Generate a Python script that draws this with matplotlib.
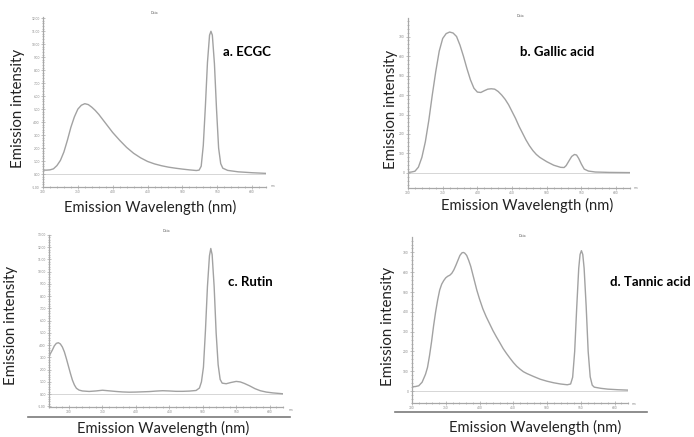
import numpy as np
import matplotlib
matplotlib.use('Agg')
import matplotlib.pyplot as plt
from matplotlib.ticker import MultipleLocator, FixedLocator
from matplotlib.lines import Line2D

# ---------------------------------------------------------------- data
# a. ECGC
wl_a = [300, 305, 310, 315, 320, 325, 330, 335, 340, 345, 350, 355, 360, 365,
        370, 375, 380, 385, 390, 395, 400, 410, 420, 430, 440, 450, 460, 470,
        480, 490, 500, 510, 520, 524, 527, 530, 533, 536, 539, 541, 543, 546,
        549, 552, 555, 558, 565, 580, 600, 620]
in_a = [0.30, 0.30, 0.32, 0.40, 0.65, 1.05, 1.7, 2.6, 3.6, 4.4, 5.0, 5.3, 5.42, 5.35,
        5.15, 4.9, 4.6, 4.25, 3.9, 3.55, 3.2, 2.6, 2.05, 1.6, 1.25, 0.97, 0.78, 0.64,
        0.53, 0.45, 0.38, 0.32, 0.27, 0.30, 0.6, 2.2, 5.2, 8.6, 10.7, 11.0, 10.7, 8.5,
        5.0, 2.0, 0.8, 0.45, 0.28, 0.17, 0.10, 0.05]

# b. Gallic acid
wl_b = [300, 305, 310, 315, 320, 325, 330, 335, 340, 345, 350, 355, 360, 365,
        370, 375, 380, 385, 390, 395, 400, 405, 410, 415, 420, 425, 430, 435,
        440, 445, 450, 455, 460, 465, 470, 475, 480, 485, 490, 500, 510, 520,
        525, 528, 532, 536, 540, 543, 546, 550, 554, 560, 570, 590, 619]
in_b = [3, 5, 9, 30, 80, 160, 270, 400, 520, 625, 690, 715, 723, 718,
        700, 655, 598, 535, 478, 435, 415, 413, 422, 430, 432, 430, 418, 400,
        378, 350, 315, 280, 240, 205, 170, 140, 115, 95, 80, 58, 40, 29,
        28, 38, 62, 85, 95, 92, 75, 45, 20, 10, 5, 3, 2]

# c. Rutin
wl_c = [270, 272, 275, 278, 281, 284, 287, 290, 293, 296, 299, 302, 305, 308,
        311, 315, 320, 330, 340, 350, 360, 370, 380, 390, 400, 410, 420, 430,
        440, 450, 460, 470, 480, 490, 495, 498, 501, 504, 507, 510, 512, 514,
        517, 520, 523, 526, 529, 535, 542, 550, 556, 562, 570, 578, 586, 595,
        605, 620]
in_c = [3.1, 3.3, 3.6, 3.95, 4.15, 4.2, 4.1, 3.85, 3.45, 2.9, 2.3, 1.7, 1.15, 0.75,
        0.48, 0.33, 0.26, 0.22, 0.26, 0.32, 0.27, 0.22, 0.18, 0.16, 0.17, 0.19, 0.21, 0.25,
        0.28, 0.26, 0.23, 0.23, 0.25, 0.30, 0.50, 1.0, 2.2, 5.2, 8.8, 11.3, 11.9, 11.4,
        8.8, 5.0, 2.4, 1.2, 0.9, 0.85, 0.95, 1.04, 1.0, 0.88, 0.68, 0.45, 0.28, 0.17,
        0.10, 0.03]

# d. Tannic acid
wl_d = [300, 305, 310, 315, 320, 323, 326, 329, 332, 335, 338, 341, 344, 347,
        350, 353, 356, 359, 362, 365, 368, 371, 374, 376, 378, 381, 384, 387,
        390, 393, 396, 400, 405, 410, 415, 420, 425, 430, 435, 440, 445, 450,
        455, 460, 465, 470, 480, 490, 500, 510, 520, 530, 535, 538, 541, 544,
        547, 549, 551, 553, 555, 558, 561, 564, 567, 570, 580, 590, 605, 620]
in_d = [22, 23, 27, 45, 85, 120, 180, 250, 330, 400, 460, 510, 540, 558,
        572, 580, 585, 595, 612, 635, 660, 685, 698, 700, 697, 685, 660, 630,
        590, 550, 510, 465, 415, 375, 340, 305, 274, 245, 215, 190, 167, 145,
        126, 111, 98, 89, 74, 60, 50, 42, 36, 32, 36, 70, 200, 420,
        620, 690, 709, 690, 620, 430, 200, 72, 30, 20, 14, 10, 7, 5]

x_ticks = [300, 350, 400, 450, 500, 550, 600]
names = ['a. ECGC', 'b. Gallic acid', 'c. Rutin', 'd. Tannic acid']

# ---------------------------------------------------------------- figure
W, H = 694, 437
fig = plt.figure(figsize=(W / 100, H / 100), dpi=100)
plt.rcParams['font.family'] = ['Lato', 'DejaVu Sans']

def px_axes(l, t, r, b):
    return fig.add_axes([l / W, 1 - b / H, (r - l) / W, (b - t) / H])

def fx(x): return x / W
def fy(y): return 1 - y / H

LINE = '#a2a2a2'
SP = '#a8a8a8'

panels = [
    # wl, intensity, box(l,t,r,b), xlim, ylim, ymajor, yminor, yfmt
    (wl_a, in_a, (43, 17, 266, 187), (300, 620), (-1.0, 12.1), 1, 0.2, '{:.2f}'),
    (wl_b, in_b, (408, 18, 630, 188), (300, 620), (-77, 795), 100, 20, '{:.0f}'),
    (wl_c, in_c, (49, 235, 283, 407), (270, 620), (-1.05, 13.0), 1, 0.2, '{:.2f}'),
    (wl_d, in_d, (412, 237, 628, 403), (300, 620), (-60, 778), 100, 20, '{:.0f}'),
]

for wl, iv, box, xl, yl, ymaj, ymin, yfmt in panels:
    ax = px_axes(*box)
    ax.plot(wl, iv, color=LINE, lw=1.0, solid_joinstyle='round')
    ax.axhline(0, color='#d6d6d6', lw=0.7, zorder=0)
    ax.set_xlim(xl); ax.set_ylim(yl)
    for s in ['top', 'right']:
        ax.spines[s].set_visible(False)
    for s in ['left', 'bottom']:
        ax.spines[s].set_color(SP); ax.spines[s].set_linewidth(0.9)
    ax.xaxis.set_major_locator(FixedLocator(x_ticks))
    ax.xaxis.set_minor_locator(MultipleLocator(10))
    ax.yaxis.set_major_locator(MultipleLocator(ymaj))
    ax.yaxis.set_minor_locator(MultipleLocator(ymin))
    ax.yaxis.set_major_formatter(plt.FuncFormatter(lambda v, p, f=yfmt: f.format(v)))
    ax.tick_params(which='both', colors=SP, labelsize=2.3, labelcolor='#8a8a8a',
                   direction='inout', width=0.5, pad=0.8)
    ax.tick_params(which='major', length=3)
    ax.tick_params(which='minor', length=1.8)
    ax.patch.set_alpha(0)

# panel names
fig.text(fx(223), fy(52), names[0], fontsize=9.5, fontweight='bold', va='center')
fig.text(fx(520), fy(52), names[1], fontsize=9.5, fontweight='bold', va='center')
fig.text(fx(228), fy(282), names[2], fontsize=9.5, fontweight='bold', va='center')
fig.text(fx(610), fy(282), names[3], fontsize=9.5, fontweight='bold', va='center')

# axis titles
for x, y in [(18, 108), (391, 109), (11, 325), (388, 326)]:
    fig.text(fx(x), fy(y), 'Emission intensity', fontsize=10.8, rotation=90,
             ha='center', va='center', color='#222222')
for x, y in [(150, 207), (527, 205), (163, 428), (535, 427)]:
    fig.text(fx(x), fy(y), 'Emission Wavelength (nm)', fontsize=10.6,
             ha='center', va='center', color='#222222')

# tiny software captions
for x, y in [(154, 13), (520, 16), (166, 231), (522, 236)]:
    fig.text(fx(x), fy(y), 'Data', fontsize=2.5, ha='center', va='center',
             color='#555555')
for x, y in [(273, 186), (636, 188), (291, 410), (634, 404)]:
    fig.text(fx(x), fy(y), 'nm', fontsize=2.3, ha='center', va='center',
             color='#888888')

# separator rules under the lower panels
fig.add_artist(Line2D([fx(28), fx(290)], [fy(417), fy(417)], color='#7a7a7a', lw=1.2))
fig.add_artist(Line2D([fx(395), fx(647)], [fy(412), fy(412)], color='#7a7a7a', lw=1.2))

fig.savefig('out.png', dpi=100, facecolor='white')
